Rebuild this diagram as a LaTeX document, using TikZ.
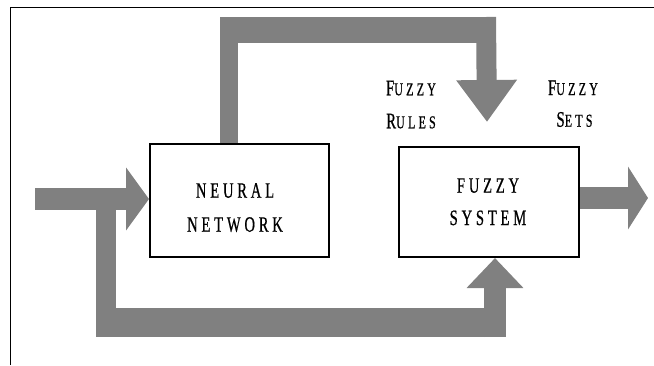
\documentclass[tikz,border=0pt]{standalone}
\usepackage{fontspec}
\setmainfont{Liberation Serif}
\newfontfamily\trackfont[LetterSpace=26,FakeBold=0.8]{Liberation Serif}
\usetikzlibrary{arrows.meta}
\definecolor{pipegray}{HTML}{808080}
\newcommand{\vstr}[1]{\scalebox{1}[1.5]{#1}}
\newcommand{\capbig}[1]{{\fontsize{14.8}{15}\selectfont #1}}
\newcommand{\capsmall}[1]{{\fontsize{12.1}{12}\selectfont #1}}
\tikzset{
  blockbox/.style={draw=black, line width=2pt, fill=white, inner sep=0pt},
  boxtxt/.style={anchor=base, inner sep=0pt, font=\trackfont\fontsize{14.6}{15}\selectfont},
  labtxt/.style={anchor=base, inner sep=0pt, font=\trackfont},
  pipe/.style={draw=pipegray, line cap=butt, line join=miter},
}
\begin{document}
\begin{tikzpicture}[x=1pt,y=-1pt]
\useasboundingbox (0,0) rectangle (654,365);
% frame
\draw[line width=1.4pt] (10.7,365) -- (10.7,7.3) -- (654,7.3);

% blocks
\node[blockbox, minimum width=179pt, minimum height=113pt] (nn) at (239.5,200.5) {};
\node[blockbox, minimum width=180pt, minimum height=110pt] (fs) at (489,202) {};

% block texts
\node[boxtxt] (nn1) at (235,197.7) {\vstr{NEURAL}};
\node[boxtxt] (nn2) at (235,231.7) {\vstr{NETWORK}};
\node[boxtxt] (fs1) at (488,192.7) {\vstr{FUZZY}};
\node[boxtxt] (fs2) at (488,225) {\vstr{SYSTEM}};

% labels
\node[labtxt] (fr1) at (411,95.3) {\vstr{\capbig{F}\capsmall{UZZY}}};
\node[labtxt] (fr2) at (411,128.3) {\vstr{\capbig{R}\capsmall{ULES}}};
\node[labtxt] (fsl1) at (573,95) {\vstr{\capbig{F}\capsmall{UZZY}}};
\node[labtxt] (fsl2) at (574.5,126.7) {\vstr{\capbig{S}\capsmall{ETS}}};

% coordinates of connector corners and free ends
\coordinate (in) at (35,199);
\coordinate (out) at (648,198);
\coordinate (tl) at (229,30);
\coordinate (tr) at (486,30);
\coordinate (tipT) at (487,122);
\coordinate (bl) at (105.75,322.5);
\coordinate (br) at (495,322.5);

% input arrow
\draw[pipe, line width=22pt, -{Triangle[length=23pt,width=62pt]}] (in) -- (in -| nn.west);

% top connector: neural network -> fuzzy rules
\draw[pipe, line width=17.5pt] (tl |- nn.north) -- ([yshift=13pt]tl);
\draw[pipe, line width=26pt] ([xshift=-8.75pt]tl) -- ([xshift=10pt]tr);
\draw[pipe, line width=20pt, -{Triangle[length=42pt,width=58pt]}] ([yshift=13pt]tr) -- (tipT);

% bottom connector: input -> fuzzy system
\draw[pipe, line width=19.5pt] (bl |- in) -- ([yshift=-14.5pt]bl);
\draw[pipe, line width=29pt] ([xshift=-9.75pt]bl) -- ([xshift=10.85pt]br);
\draw[pipe, line width=21.7pt, -{Triangle[length=30pt,width=55pt]}] ([yshift=-14.5pt]br) -- (br |- fs.south);

% output arrow
\draw[pipe, line width=22pt, -{Triangle[length=20pt,width=62pt]}] (fs.east |- out) -- (out);
\end{tikzpicture}
\end{document}
